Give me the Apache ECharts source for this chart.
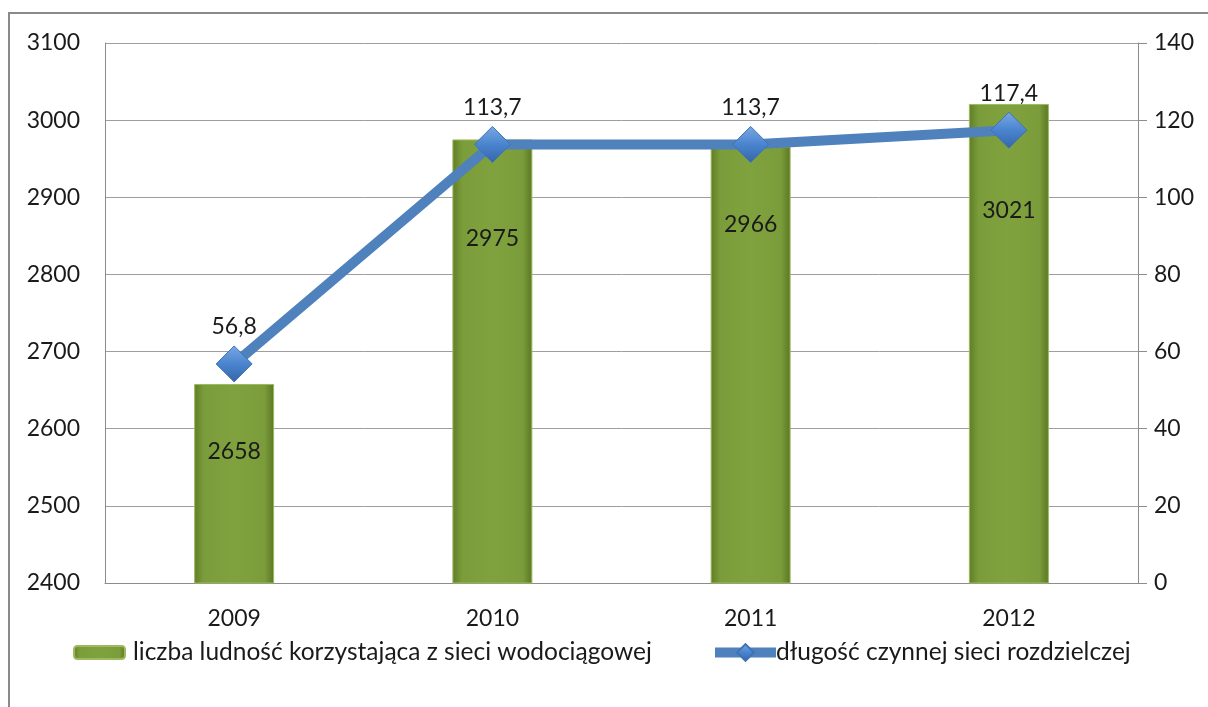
<!DOCTYPE html>
<html>
<head>
<meta charset="utf-8">
<script src="https://cdn.jsdelivr.net/npm/echarts@6/dist/echarts.min.js"></script>
<style>
  html, body { margin: 0; padding: 0; background: #fff; }
  #chart { width: 1208px; height: 707px; }
</style>
</head>
<body>
<div id="chart"></div>
<script>
var years = ['2009', '2010', '2011', '2012']
var ludnosc = [2658, 2975, 2966, 3021]
var dlugosc = [56.8, 113.7, 113.7, 117.4]
var leftTicks = { min: 2400, max: 3100, interval: 100 }
var rightTicks = { min: 0, max: 140, interval: 20 }
// how far each bar label sits below the bar top (px)
var barLabelDist = [56, 88, 67, 95]

var FONT = 'Lato'
var chart = echarts.init(document.getElementById('chart'))

var option = {
  animation: false,
  textStyle: { fontFamily: FONT },
  graphic: [{
    type: 'rect',
    shape: { x: 9, y: 13, width: 1300, height: 800 },
    style: { fill: 'none', stroke: '#8a8a8a', lineWidth: 2 },
    silent: true
  }],
  grid: { left: 105, right: 70, top: 43, bottom: 124 },
  legend: [{
    data: ['liczba ludność korzystająca z sieci wodociągowej'],
    left: 68, top: 635,
    itemWidth: 51, itemHeight: 13,
    textStyle: { fontSize: 24.5, color: '#1a1a1a', fontFamily: FONT, padding: [0, 0, 0, 3] }
  }, {
    data: ['długość czynnej sieci rozdzielczej'],
    left: 705, top: 635,
    itemWidth: 61, itemHeight: 21,
    lineStyle: { width: 10 },
    textStyle: { fontSize: 24.5, color: '#1a1a1a', fontFamily: FONT, padding: [0, 0, 0, -5] }
  }],
  xAxis: {
    type: 'category',
    data: years,
    axisLine: { show: true, lineStyle: { color: '#8c8c8c' } },
    axisTick: { show: false },
    axisLabel: { fontSize: 23, color: '#1a1a1a', margin: 24 }
  },
  yAxis: [{
    type: 'value',
    min: leftTicks.min, max: leftTicks.max, interval: leftTicks.interval,
    axisLine: { show: true, lineStyle: { color: '#8c8c8c' } },
    axisTick: { show: false },
    axisLabel: { fontSize: 23, color: '#1a1a1a', margin: 25, formatter: function (v) { return String(v) } },
    splitLine: { lineStyle: { color: '#9e9e9e' } }
  }, {
    type: 'value',
    min: rightTicks.min, max: rightTicks.max, interval: rightTicks.interval,
    axisLine: { show: true, lineStyle: { color: '#8c8c8c' } },
    axisTick: { show: true, length: 9, lineStyle: { color: '#8c8c8c' } },
    axisLabel: { fontSize: 23, color: '#1a1a1a', margin: 16 },
    splitLine: { show: false }
  }],
  series: [{
    name: 'liczba ludność korzystająca z sieci wodociągowej',
    type: 'bar',
    barWidth: 80,
    data: ludnosc.map(function (v, i) {
      return {
        value: v,
        label: { distance: barLabelDist[i] }
      }
    }),
    itemStyle: {
      color: new echarts.graphic.LinearGradient(0, 0, 1, 0, [
        { offset: 0, color: '#5f7d27' },
        { offset: 0.12, color: '#7b9c3a' },
        { offset: 0.5, color: '#80a23e' },
        { offset: 0.88, color: '#7b9c3a' },
        { offset: 1, color: '#5a7624' }
      ]),
      borderColor: '#9dbb5e',
      borderWidth: 1
    },
    label: {
      show: true,
      position: 'insideTop',
      fontSize: 23,
      color: '#1a1a1a'
    },
    z: 2
  }, {
    name: 'długość czynnej sieci rozdzielczej',
    type: 'line',
    yAxisIndex: 1,
    data: dlugosc,
    symbol: 'diamond',
    symbolSize: 36,
    lineStyle: { color: '#4f81bd', width: 10 },
    itemStyle: {
      color: new echarts.graphic.LinearGradient(0, 0, 0, 1, [
        { offset: 0, color: '#7aa9e2' },
        { offset: 0.5, color: '#4a84cf' },
        { offset: 1, color: '#3566a8' }
      ]),
      borderColor: '#3f73b5',
      borderWidth: 1
    },
    label: {
      show: true,
      position: 'top',
      distance: 7,
      fontSize: 23,
      color: '#1a1a1a',
      formatter: function (p) {
        return String(p.value).replace('.', ',')
      }
    },
    z: 3
  }]
}

chart.setOption(option)
</script>
</body>
</html>
